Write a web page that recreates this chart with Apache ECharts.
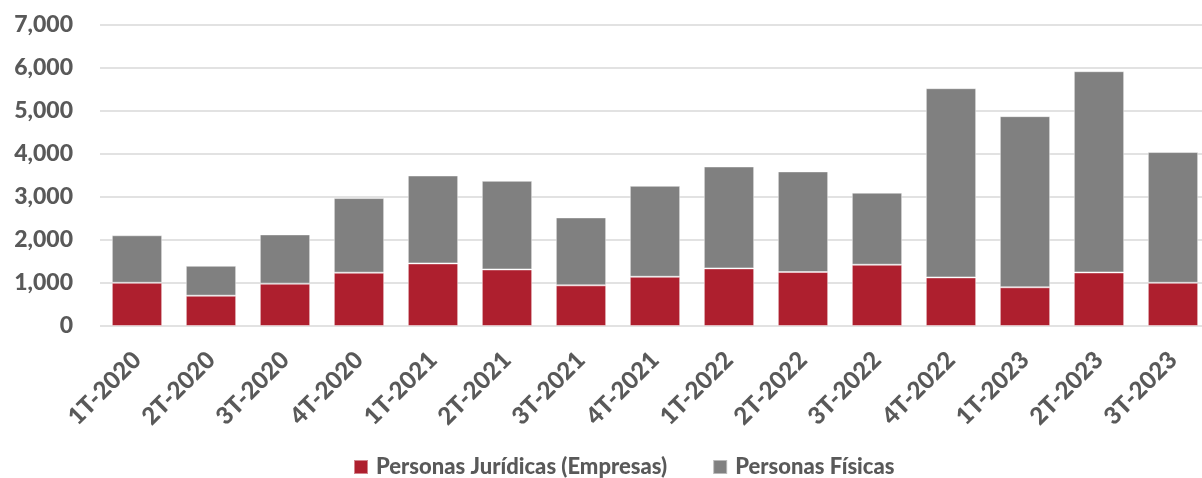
<!DOCTYPE html>
<html><head><meta charset="utf-8">
<script src="https://cdn.jsdelivr.net/npm/echarts@6/dist/echarts.min.js"></script>
<style>html,body{margin:0;padding:0;background:#fff}#c{width:1202px;height:478px}</style>
</head><body><div id="c"></div>
<script>
var categories = ["1T-2020","2T-2020","3T-2020","4T-2020","1T-2021","2T-2021","3T-2021","4T-2021","1T-2022","2T-2022","3T-2022","4T-2022","1T-2023","2T-2023","3T-2023"];
var juridicas = [1005, 705, 985, 1240, 1455, 1315, 945, 1145, 1340, 1255, 1425, 1130, 900, 1245, 1005];
var fisicas = [1105, 695, 1145, 1735, 2045, 2060, 1580, 2115, 2370, 2340, 1675, 4400, 3980, 4680, 3040];
var seriesNames = ["Personas Jurídicas (Empresas)", "Personas Físicas"];
var colors = ["#AE1F2E", "#808080"];

var chart = echarts.init(document.getElementById('c'));
var font = 'Lato';
chart.setOption({
  animation: false,
  textStyle: { fontFamily: font },
  grid: { left: 100, width: 1110, top: 25, height: 301, containLabel: false, outerBoundsMode: 'none' },
  legend: {
    top: 456, left: 353, itemWidth: 14, itemHeight: 14, itemGap: 45,
    icon: 'rect', padding: 0,
    textStyle: { fontFamily: font, fontWeight: 900, fontSize: 22, color: '#595959', padding: [0,0,0,3] },
    data: seriesNames
  },
  xAxis: {
    type: 'category', data: categories,
    axisLine: { show: false }, axisTick: { show: false },
    axisLabel: { rotate: 45, interval: 0, margin: 30, fontFamily: font, fontWeight: 900, fontSize: 24, color: '#595959' }
  },
  yAxis: {
    type: 'value', min: 0, max: 7000, interval: 1000,
    axisLine: { show: false }, axisTick: { show: false },
    splitLine: { lineStyle: { color: '#d9d9d9', width: 1.5 } },
    axisLabel: { margin: 27, fontFamily: font, fontWeight: 900, fontSize: 23, color: '#595959',
      formatter: function(v){ return v.toLocaleString('en-US'); } }
  },
  series: [
    { name: seriesNames[0], type: 'bar', stack: 't', data: juridicas, barCategoryGap: '32%',
      itemStyle: { color: colors[0], borderColor: 'rgba(255,255,255,0.45)', borderWidth: 1 } },
    { name: seriesNames[1], type: 'bar', stack: 't', data: fisicas, barCategoryGap: '32%',
      itemStyle: { color: colors[1], borderColor: 'rgba(255,255,255,0.45)', borderWidth: 1 } }
  ]
});
</script></body></html>
